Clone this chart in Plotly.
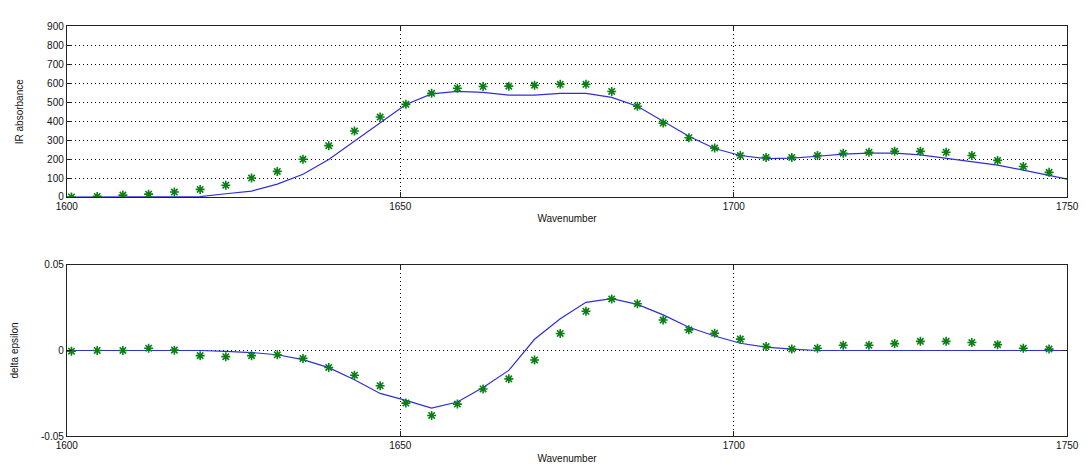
import plotly.graph_objects as go

# Wavenumber grid of the measured points (cm^-1)
wavenumber = [1600.70, 1604.56, 1608.41, 1612.27, 1616.13, 1619.99, 1623.84, 1627.70,
              1631.56, 1635.41, 1639.27, 1643.13, 1646.98, 1650.84, 1654.70, 1658.56,
              1662.41, 1666.27, 1670.13, 1673.98, 1677.84, 1681.70, 1685.55, 1689.41,
              1693.27, 1697.13, 1700.98, 1704.84, 1708.70, 1712.55, 1716.41, 1720.27,
              1724.12, 1727.98, 1731.84, 1735.70, 1739.55, 1743.41, 1747.27]

# Measured IR absorbance (green stars)
ir_measured = [0, 3, 10, 15, 26, 40, 62, 100, 135, 199, 271, 348, 422,
               489, 547, 574, 583, 585, 590, 595, 595, 557, 479, 390, 313, 258, 219, 209,
               209, 219, 231, 236, 241, 241, 236, 219, 193, 161, 130]

# Fitted curve (blue line)
fit_wavenumber = [1600.0] + wavenumber + [1750.0]
ir_fit = [0, 0, 0, 0, 0, 0, 2, 17, 31, 68, 120, 198, 296, 393,
          488, 544, 557, 552, 538, 538, 547, 547, 526, 479, 398, 321, 256, 219, 202,
          205, 215, 226, 231, 231, 222, 205, 188, 168, 142, 116, 94]

# Measured delta epsilon (green stars)
de_measured = [-0.0004, 0.0, 0.0, 0.0013, 0.0002, -0.0030, -0.0036, -0.0030, -0.0025,
               -0.0046, -0.0099, -0.0144, -0.0205,
               -0.0306, -0.0378, -0.0312, -0.0224, -0.0165, -0.0055, 0.0099, 0.0228,
               0.0300, 0.0272, 0.0177, 0.0120, 0.0100, 0.0066, 0.0023,
               0.0008, 0.0013, 0.0030, 0.0030, 0.0040, 0.0053, 0.0053, 0.0046, 0.0034,
               0.0013, 0.0008]

de_fit = [0, 0, 0, 0, 0, 0, 0, -0.0005, -0.0012, -0.0025, -0.0053, -0.010, -0.017, -0.025,
          -0.029, -0.0335, -0.030, -0.0215, -0.0116, 0.0065, 0.0184, 0.028, 0.0302, 0.0268,
          0.0207, 0.0135, 0.0084, 0.0042, 0.0019, 0.0008, 0, 0, 0, 0, 0, 0, 0, 0, 0, 0, 0]

x_ticks = [1600, 1650, 1700, 1750]
ir_ticks = [0, 100, 200, 300, 400, 500, 600, 700, 800, 900]
de_ticks = [-0.05, 0, 0.05]
de_ticktext = ["-0.05", "0", "0.05"]

LINE_COLOR = "#2f2fd8"
STAR_COLOR = "#0a7f14"
FONT = "Liberation Sans, Arial, sans-serif"

fig = go.Figure()

star = dict(symbol="asterisk-open", size=7.5, color=STAR_COLOR,
            line=dict(color=STAR_COLOR, width=1.6))

fig.add_trace(go.Scatter(x=fit_wavenumber, y=ir_fit, mode="lines",
                         line=dict(color=LINE_COLOR, width=1.2),
                         xaxis="x", yaxis="y", showlegend=False))
fig.add_trace(go.Scatter(x=wavenumber, y=ir_measured, mode="markers", marker=star,
                         xaxis="x", yaxis="y", showlegend=False))
fig.add_trace(go.Scatter(x=fit_wavenumber, y=de_fit, mode="lines",
                         line=dict(color=LINE_COLOR, width=1.2),
                         xaxis="x2", yaxis="y2", showlegend=False))
fig.add_trace(go.Scatter(x=wavenumber, y=de_measured, mode="markers", marker=star,
                         xaxis="x2", yaxis="y2", showlegend=False))

xdom = [57 / 1091, 1079 / 1091]
common_axis = dict(showline=True, linecolor="#222", linewidth=1, mirror="ticks",
                   ticks="inside", ticklen=5, tickcolor="#222",
                   gridcolor="#000", griddash="1px,3px", gridwidth=1,
                   zeroline=False, tickfont=dict(family=FONT, size=10, color="#111"))

fig.update_layout(
    width=1091, height=470,
    margin=dict(l=0, r=0, t=0, b=0),
    paper_bgcolor="white", plot_bgcolor="white",
    font=dict(family=FONT, size=10, color="#111"),
    xaxis=dict(domain=xdom, anchor="y", range=[1600, 1750], tickvals=x_ticks,
               showgrid=True,
               title=dict(text="Wavenumber", standoff=4, font=dict(size=10)),
               **common_axis),
    yaxis=dict(domain=[1 - 196 / 470, 1 - 21 / 470], anchor="x", range=[0, 900],
               tickvals=ir_ticks, showgrid=True,
               title=dict(text="IR absorbance", standoff=21, font=dict(size=10)),
               **common_axis),
    xaxis2=dict(domain=xdom, anchor="y2", range=[1600, 1750], tickvals=x_ticks,
                showgrid=True,
                title=dict(text="Wavenumber", standoff=4, font=dict(size=10)),
                **common_axis),
    yaxis2=dict(domain=[1 - 441.7 / 470, 1 - 265.3 / 470], anchor="x2",
                range=[-0.05, 0.05], tickvals=de_ticks, ticktext=de_ticktext,
                showgrid=True,
                title=dict(text="delta epsilon", standoff=20, font=dict(size=10)),
                **common_axis),
)

fig.write_html("out.html")
